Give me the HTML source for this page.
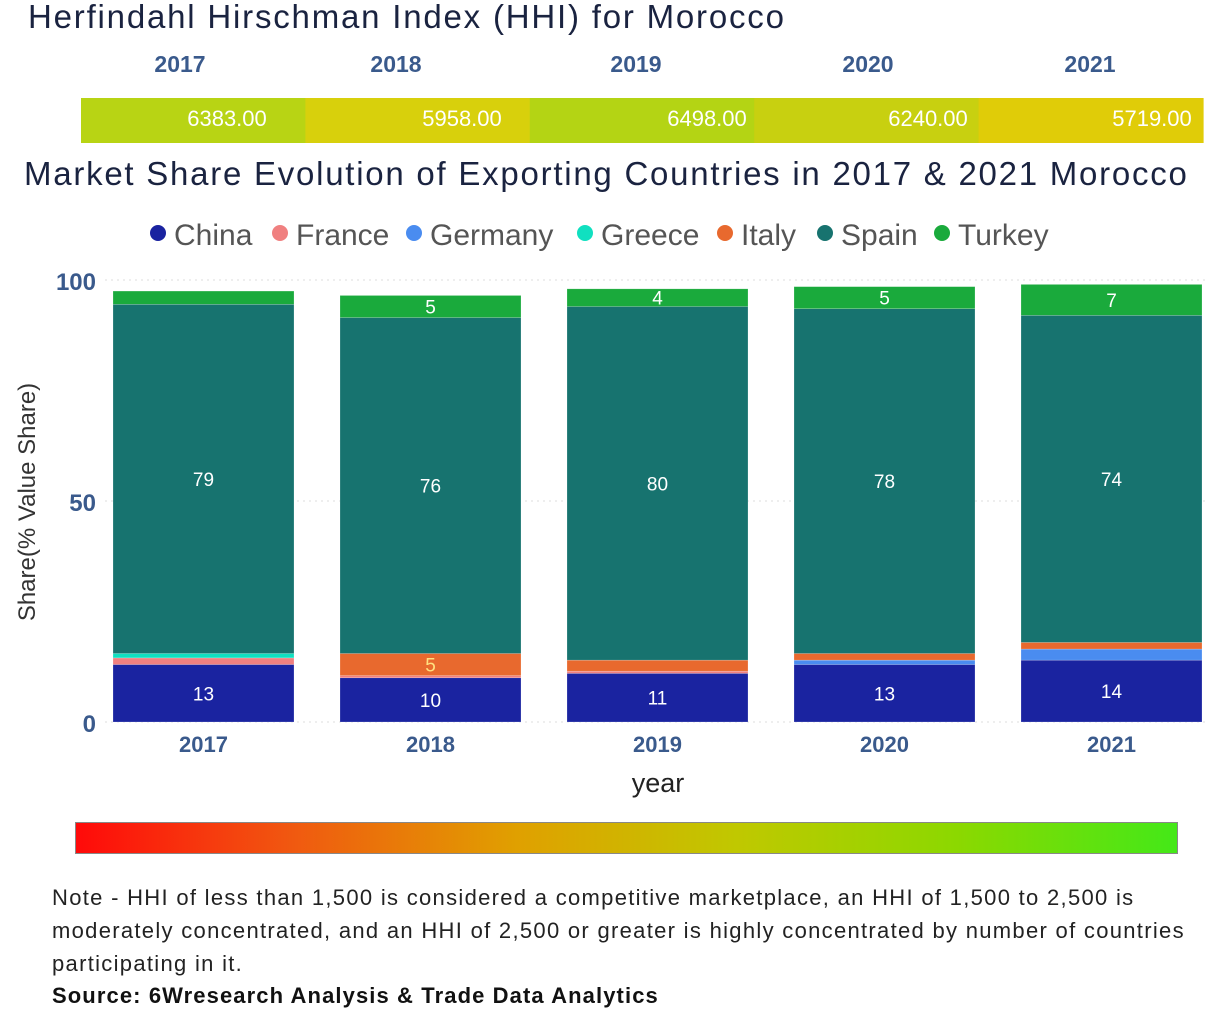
<!DOCTYPE html>
<html><head><meta charset="utf-8"><style>
body{margin:0;background:#fff;width:1230px;height:1019px;overflow:hidden;font-family:"Liberation Sans","DejaVu Sans",sans-serif;position:relative}
.t{position:absolute;white-space:nowrap}
</style></head><body>
<div class="t" style="left:28px;top:-2px;font-size:33px;letter-spacing:1.8px;color:#1a2340">Herfindahl Hirschman Index (HHI) for Morocco</div>
<svg id="hhi" width="1230" height="150" style="position:absolute;left:0;top:0"></svg>
<div class="t" style="left:24px;top:155px;font-size:33px;letter-spacing:1.75px;color:#1a2340">Market Share Evolution of Exporting Countries in 2017 &amp; 2021 Morocco</div>
<svg id="chart" width="1230" height="820" style="position:absolute;left:0;top:0"></svg>
<div style="position:absolute;left:75px;top:822px;width:1103px;height:32px;background:linear-gradient(to right,#ff0a0a,#f05a10,#e0a000,#c0c800,#8cd800,#44e818);border:1px solid #888;box-sizing:border-box"></div>
<div class="t" style="left:52px;top:881px;font-size:22px;line-height:33px;color:#222;letter-spacing:1.3px">Note - HHI of less than 1,500 is considered a competitive marketplace, an HHI of 1,500 to 2,500 is<br>moderately concentrated, and an HHI of 2,500 or greater is highly concentrated by number of countries<br>participating in it.</div>
<div class="t" style="left:52px;top:983px;font-size:22px;font-weight:bold;color:#111;letter-spacing:1.1px">Source: 6Wresearch Analysis &amp; Trade Data Analytics</div>
<script>
const years=["2017","2018","2019","2020","2021"];
const hhi=[6383.00,5958.00,6498.00,6240.00,5719.00];
const countries=["China","France","Germany","Greece","Italy","Spain","Turkey"];
const colors=["#1a23a0","#f08080","#4a8cf0","#10e0c0","#e8692e","#17736f","#1aaa3c"];
const china=[13,10,11,13,14];
const france=[1.5,0.5,0.5,0,0];
const germany=[0,0,0,1,2.5];
const greece=[1,0,0,0,0];
const italy=[0,5,2.5,1.5,1.5];
const spain=[79,76,80,78,74];
const turkey=[3,5,4,5,7];
const series=[china,france,germany,greece,italy,spain,turkey];
const yTicks=[0,50,100];
const NS="http://www.w3.org/2000/svg";
function mk(p,tag,a,txt){const e=document.createElementNS(NS,tag);for(const k in a)e.setAttribute(k,a[k]);if(txt!==undefined)e.textContent=txt;p.appendChild(e);return e;}
const h=document.getElementById('hhi');
const hx=i=>81+i*224.4, hc=["#b8d414","#d8d00c","#b4d414","#c8d010","#e0cc08"];
years.forEach((y,i)=>{
 const t=mk(h,'text',{x:[180,396,636,868,1090][i],y:72,'text-anchor':'middle','font-size':23,'font-weight':'bold',fill:'#3a5a8c'},y);
 
 const r=mk(h,'rect',{x:hx(i),y:98,width:225,height:45,fill:hc[i]});
 
 const v=mk(h,'text',{x:[227,462,707,928,1152][i],y:126,'text-anchor':'middle','font-size':22,fill:'#fff'},hhi[i].toFixed(2));
 
});
const c=document.getElementById('chart');
const yS=v=>722-v*4.42, xB=i=>113+i*227, bw=181;
const lpos=[150,272,406,577,717,817,934];
countries.forEach((n,i)=>{
 const g=mk(c,'g',{});
 mk(g,'circle',{cx:lpos[i]+8,cy:233,r:8,fill:colors[i]});
 mk(g,'text',{x:lpos[i]+24,y:245,'font-size':30,fill:'#555'},n);
});
yTicks.forEach(t=>{
 const tl=mk(c,'text',{x:96,y:yS(t)+10,'text-anchor':'end','font-size':24,'font-weight':'bold',fill:'#3a5a8c'},t);
 
 const gl=mk(c,'line',{x1:105,x2:1205,y1:yS(t),y2:yS(t),stroke:'#ddd','stroke-dasharray':'2,4'});
 
});
const yt=mk(c,'text',{transform:'translate(35,502) rotate(-90)','text-anchor':'middle','font-size':24,fill:'#333'},'Share(% Value Share)');

const xt=mk(c,'text',{x:658,y:792,'text-anchor':'middle','font-size':27,fill:'#222'},'year');

years.forEach((y,i)=>{
 let base=0;
 series.forEach((s,k)=>{
  const v=s[i]; if(v<=0)return;
  const r=mk(c,'rect',{x:xB(i),y:yS(base+v),width:bw,height:v*4.42,fill:colors[k],stroke:'#fff','stroke-width':0.5,'stroke-opacity':0.4});
  
  
  if(v>=4){const l=mk(c,'text',{x:xB(i)+bw/2,y:yS(base+v/2)+7,'text-anchor':'middle','font-size':19,fill:k==4?'#ffe080':'#fff'},Math.round(v));
   }
  base+=v;
 });
 const xl=mk(c,'text',{x:xB(i)+bw/2,y:752,'text-anchor':'middle','font-size':22,'font-weight':'bold',fill:'#3a5a8c'},y);
 
});
</script>
</body></html>
